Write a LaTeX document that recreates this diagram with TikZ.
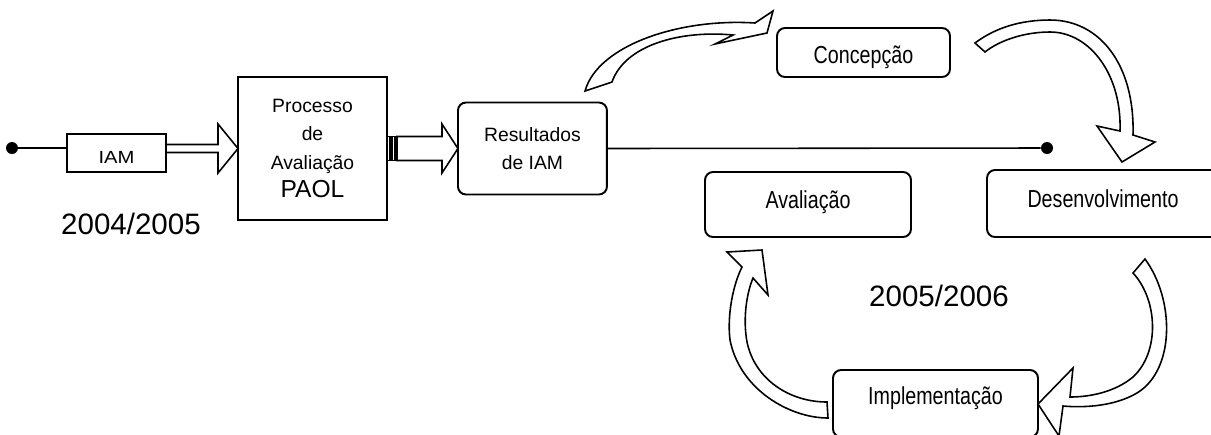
\documentclass[tikz,border=0pt]{standalone}
\usepackage{fontspec}
\setmainfont{Liberation Sans}
\newfontfamily\narrowfont[FakeStretch=0.8]{Liberation Sans}
\newfontfamily\iamfont[FakeStretch=1.15]{Liberation Sans}
\usetikzlibrary{positioning, calc}

\begin{document}
\begin{tikzpicture}[
    x=0.02cm, y=-0.02cm,
    plainbox/.style={rectangle, draw, line width=1.1pt, inner sep=0pt, outer sep=0pt, align=center},
    stagebox/.style={rectangle, draw, line width=1.1pt, rounded corners=0.16cm, inner sep=0pt, outer sep=0pt,
                     text height=10pt, text depth=5pt, font=\narrowfont\fontsize{14}{16}\selectfont},
    blockarrow/.style={draw, line width=0.9pt, fill=white, line join=miter},
    dot/.style={circle, fill, inner sep=0pt, minimum size=0.24cm},
    year/.style={font=\fontsize{16.8}{20}\selectfont},
]

\useasboundingbox (0,0) rectangle (1211,434);

% Nodes
\node [plainbox, minimum width=2.98cm, minimum height=2.86cm, font=\fontsize{11}{16}\selectfont] (proc) at (312.5,148.5) {Processo\\de\\Avaliação\\{\fontsize{14}{16}\selectfont PAOL}};
\node [plainbox, left=1.44cm of proc, yshift=-0.09cm, minimum width=1.98cm, minimum height=0.76cm,
       text height=12.3pt, text depth=0pt, font=\iamfont\fontsize{10}{12}\selectfont] (iam) {IAM};
\node [plainbox, right=1.42cm of proc, rounded corners=0.16cm, minimum width=2.98cm, minimum height=1.84cm,
       font=\fontsize{11}{16}\selectfont] (res) {Resultados\\de IAM};
\node [stagebox, minimum width=3.46cm, minimum height=0.98cm, text height=12.8pt, text depth=0pt] (concep) at (863.5,52.5) {Concepção};
\node [stagebox, minimum width=4.64cm, minimum height=1.34cm] (desenv) at (1103,203.5) {Desenvolvimento};
\node [stagebox, minimum width=4.12cm, minimum height=1.30cm] (aval) at (808,204.5) {Avaliação};
\node [stagebox, minimum width=4.10cm, minimum height=1.34cm, text height=6.4pt] (impl) at (935.5,403.5) {Implementação};

\node [dot] (start) at (12,148) {};
\node [dot] (finish) at (1047,148) {};
\node [year] (year1) at (131,224) {2004/2005};
\node [year] (year2) at (939,296) {2005/2006};

% Lines
\draw [line width=0.9pt] (start) -- (start -| iam.west);
\draw [line width=0.9pt] (res.east) -- (finish);

% Straight block arrows
\draw [blockarrow] ($(iam.east |- proc.west)+(0,-4)$) -- ($(proc.west)+(-20,-4)$) -- ($(proc.west)+(-20,-24.5)$)
    -- (proc.west) -- ($(proc.west)+(-20,24.5)$) -- ($(proc.west)+(-20,4)$) -- ($(iam.east |- proc.west)+(0,4)$) -- cycle;

\draw [blockarrow] ($(proc.east)+(0,-12)$) rectangle ($(proc.east)+(3,12)$);
\draw [blockarrow] ($(proc.east)+(5,-12)$) rectangle ($(proc.east)+(8,12)$);
\draw [blockarrow] ($(proc.east)+(10,-12)$) -- ($(res.west)+(-16,-12)$) -- ($(res.west)+(-16,-24.5)$)
    -- (res.west) -- ($(res.west)+(-16,24.5)$) -- ($(res.west)+(-16,12)$) -- ($(proc.east)+(10,12)$) -- cycle;

% Curved block arrows round the cycle
\draw [blockarrow] (585,91) .. controls (598,45) and (680,18) .. (755,23)
    -- (773,11) -- (767,33) -- (715,44) -- (733,35)
    .. controls (680,30) and (625,45) .. (612,82) -- cycle;

\draw [blockarrow] (975,43) .. controls (995,28) and (1020,20) .. (1050,20)
    .. controls (1100,20) and (1135,65) .. (1133,135)
    -- (1155,142) -- (1122,162) -- (1097,126) -- (1120,131)
    .. controls (1122,75) and (1090,32) .. (1050,32)
    .. controls (1025,32) and (1000,40) .. (985,52) -- cycle;

\draw [blockarrow] (1145,259) .. controls (1175,300) and (1175,370) .. (1137,393)
    .. controls (1115,406) and (1085,408) .. (1063,406)
    -- (1059,436) -- (1038,404) -- (1073,368) -- (1070,397)
    .. controls (1090,397) and (1115,392) .. (1133,377)
    .. controls (1160,352) and (1158,300) .. (1133,273) -- cycle;

\draw [blockarrow] (828,418) .. controls (790,418) and (740,390) .. (730,340)
    .. controls (727,315) and (733,285) .. (742,267)
    -- (727,252) -- (762,250) -- (768,295) -- (753,278)
    .. controls (746,295) and (743,320) .. (747,342)
    .. controls (755,380) and (790,402) .. (827,402) -- cycle;

\end{tikzpicture}
\end{document}
